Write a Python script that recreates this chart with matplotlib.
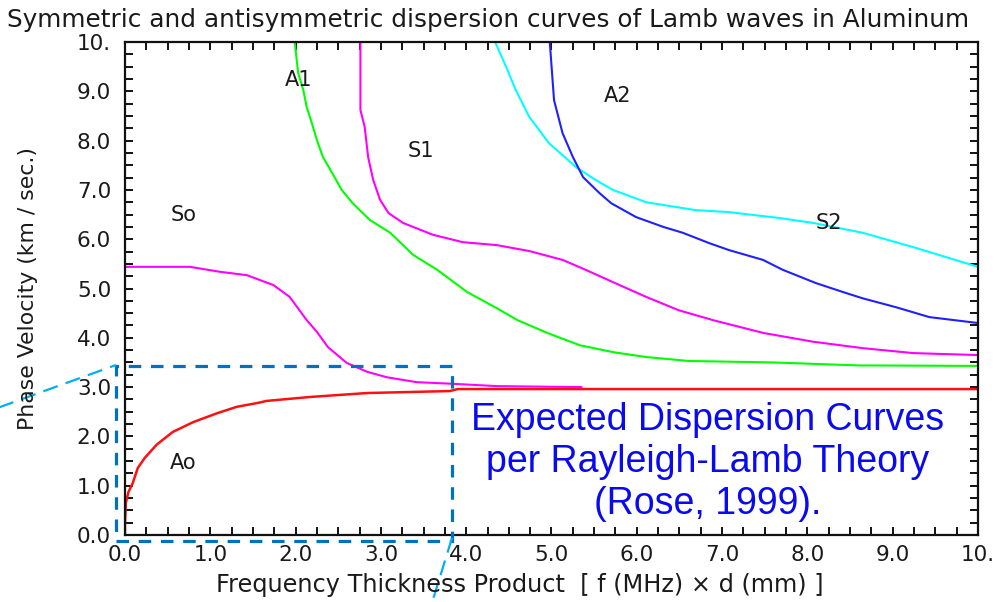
import matplotlib
matplotlib.use("Agg")
import matplotlib.pyplot as plt
from matplotlib.ticker import MultipleLocator, FuncFormatter
from matplotlib.patches import Rectangle
from matplotlib.lines import Line2D

# Frequency-thickness product (MHz*mm) and phase velocity (km/s) of each Lamb mode
A0_fd = [0.0, 0.0, 0.01, 0.04, 0.09, 0.15, 0.23, 0.37, 0.56, 0.80, 1.08, 1.31, 1.56, 1.66,
         2.17, 2.84, 3.81, 3.90, 10.0]
A0_vp = [0.0, 0.24, 0.65, 0.87, 1.05, 1.36, 1.56, 1.83, 2.09, 2.29, 2.47, 2.60, 2.68, 2.72,
         2.80, 2.88, 2.92, 2.96, 2.96]

S0_fd = [0.0, 0.76, 1.11, 1.43, 1.74, 1.93, 2.13, 2.25, 2.38, 2.60, 2.84, 3.07, 3.42, 3.81, 4.36, 5.35]
S0_vp = [5.44, 5.44, 5.34, 5.27, 5.07, 4.83, 4.36, 4.12, 3.81, 3.49, 3.31, 3.20, 3.10, 3.07, 3.02, 3.00]

A1_fd = [1.99, 2.03, 2.09, 2.13, 2.19, 2.25, 2.32, 2.43, 2.54, 2.67, 2.87, 3.11, 3.38, 3.66,
         4.01, 4.36, 4.60, 4.95, 5.33, 5.72, 6.11, 6.61, 7.60, 8.60, 10.0]
A1_vp = [10.0, 9.37, 9.03, 8.68, 8.36, 8.01, 7.67, 7.34, 7.00, 6.73, 6.39, 6.13, 5.68, 5.38,
         4.93, 4.60, 4.36, 4.10, 3.85, 3.71, 3.61, 3.53, 3.50, 3.44, 3.43]

S1_fd = [2.76, 2.76, 2.81, 2.85, 2.91, 2.99, 3.09, 3.26, 3.61, 3.96, 4.36, 4.74, 5.13, 5.40,
         5.72, 6.11, 6.49, 6.89, 7.48, 8.07, 8.65, 9.24, 10.0]
S1_vp = [10.0, 8.62, 8.28, 7.67, 7.20, 6.80, 6.53, 6.33, 6.09, 5.94, 5.88, 5.76, 5.58, 5.38,
         5.13, 4.83, 4.56, 4.36, 4.10, 3.92, 3.79, 3.69, 3.65]

A2_fd = [4.98, 5.03, 5.13, 5.25, 5.37, 5.56, 5.70, 5.99, 6.31, 6.54, 6.85, 7.08, 7.48, 7.71,
         8.10, 8.45, 8.65, 9.04, 9.43, 10.0]
A2_vp = [10.0, 8.82, 8.15, 7.67, 7.26, 6.94, 6.73, 6.45, 6.25, 6.13, 5.92, 5.78, 5.58, 5.38,
         5.11, 4.91, 4.80, 4.62, 4.42, 4.30]

S2_fd = [4.34, 4.47, 4.58, 4.74, 4.97, 5.29, 5.52, 5.72, 6.11, 6.69, 7.08, 7.67, 8.07, 8.65, 9.24, 10.0]
S2_vp = [10.0, 9.49, 9.03, 8.48, 7.95, 7.46, 7.20, 7.00, 6.75, 6.59, 6.55, 6.43, 6.33, 6.13, 5.84, 5.44]

# Mode names and where they are written
mode_names = ["A1", "S1", "So", "A2", "S2", "Ao"]
mode_label_fd = [2.03, 3.47, 0.69, 5.77, 8.25, 0.68]
mode_label_vp = [9.23, 7.79, 6.49, 8.90, 6.33, 1.46]

# Low-frequency region highlighted by the dashed frame
zoom_fd = [-0.105, 3.83]
zoom_vp = [-0.12, 3.43]

TEXT = "#1a1a1a"
plt.rcParams["font.family"] = ["DejaVu Sans"]
plt.rcParams["lines.scale_dashes"] = False

fig = plt.figure(figsize=(9.96, 6.02), dpi=100)
ax = fig.add_axes([0.1255, 0.1113, 0.8564, 0.8189])

lw = 1.5
ax.plot(S2_fd, S2_vp, color="#00FFFF", lw=lw)
ax.plot(A2_fd, A2_vp, color="#2020FF", lw=lw)
ax.plot(S1_fd, S1_vp, color="#FF00FF", lw=lw)
ax.plot(A1_fd, A1_vp, color="#00FF00", lw=lw)
ax.plot(A0_fd, A0_vp, color="#FF1010", lw=lw + 0.3)
ax.plot(S0_fd, S0_vp, color="#FF00FF", lw=lw)

for name, x, y in zip(mode_names, mode_label_fd, mode_label_vp):
    ax.text(x, y, name, fontsize=15, color=TEXT, ha="center", va="center")

ax.set_xlim(0, 10)
ax.set_ylim(0, 10)

fmt = FuncFormatter(lambda v, p: "10." if abs(v - 10) < 1e-9 else f"{v:.1f}")
for axis in (ax.xaxis, ax.yaxis):
    axis.set_major_locator(MultipleLocator(1.0))
    axis.set_minor_locator(MultipleLocator(0.25))
    axis.set_major_formatter(fmt)

ax.tick_params(which="both", direction="in", top=True, right=True,
               length=6, width=1.4, color="#111111")
ax.tick_params(axis="both", which="major", labelsize=15.5, labelcolor=TEXT)
ax.tick_params(axis="x", which="major", pad=7)
ax.tick_params(axis="y", which="major", pad=10)

for sp in ax.spines.values():
    sp.set_linewidth(1.6)
    sp.set_color("#111111")

fig.text(0.490, 0.967, "Symmetric and antisymmetric dispersion curves of Lamb waves in Aluminum",
         fontsize=17.8, color=TEXT, ha="center", va="center")
fig.text(0.522, 0.028, "Frequency Thickness Product  [ f (MHz) \u00d7 d (mm) ]",
         fontsize=17.3, color=TEXT, ha="center", va="center")
fig.text(0.028, 0.52, "Phase Velocity (km / sec.)", fontsize=15.8, color=TEXT,
         ha="center", va="center", rotation=90)

ax.text(0.683, 0.148, "Expected Dispersion Curves\nper Rayleigh-Lamb Theory\n(Rose, 1999).",
        transform=ax.transAxes, fontsize=27, color="#0A0AF0", family="Liberation Sans",
        ha="center", va="center", multialignment="center")

# Dashed frame around the low-frequency region
ax.add_patch(Rectangle((zoom_fd[0], zoom_vp[0]), zoom_fd[1] - zoom_fd[0], zoom_vp[1] - zoom_vp[0],
                       fill=False, edgecolor="#0070C0", lw=2.3, linestyle=(0, (9, 7)),
                       clip_on=False, zorder=5))

# Callout lines leading out of the frame
W, H = 996.0, 602.0
callout = dict(color="#00B0F0", lw=1.6, linestyle=(0, (11, 6)), transform=fig.transFigure)
fig.add_artist(Line2D([-4 / W, 116 / W], [1 - 408.5 / H, 1 - 365 / H], **callout))
fig.add_artist(Line2D([452 / W, 431 / W], [1 - 538 / H, 1 - 606 / H], **callout))

fig.savefig("out.png", dpi=100, facecolor="white")
